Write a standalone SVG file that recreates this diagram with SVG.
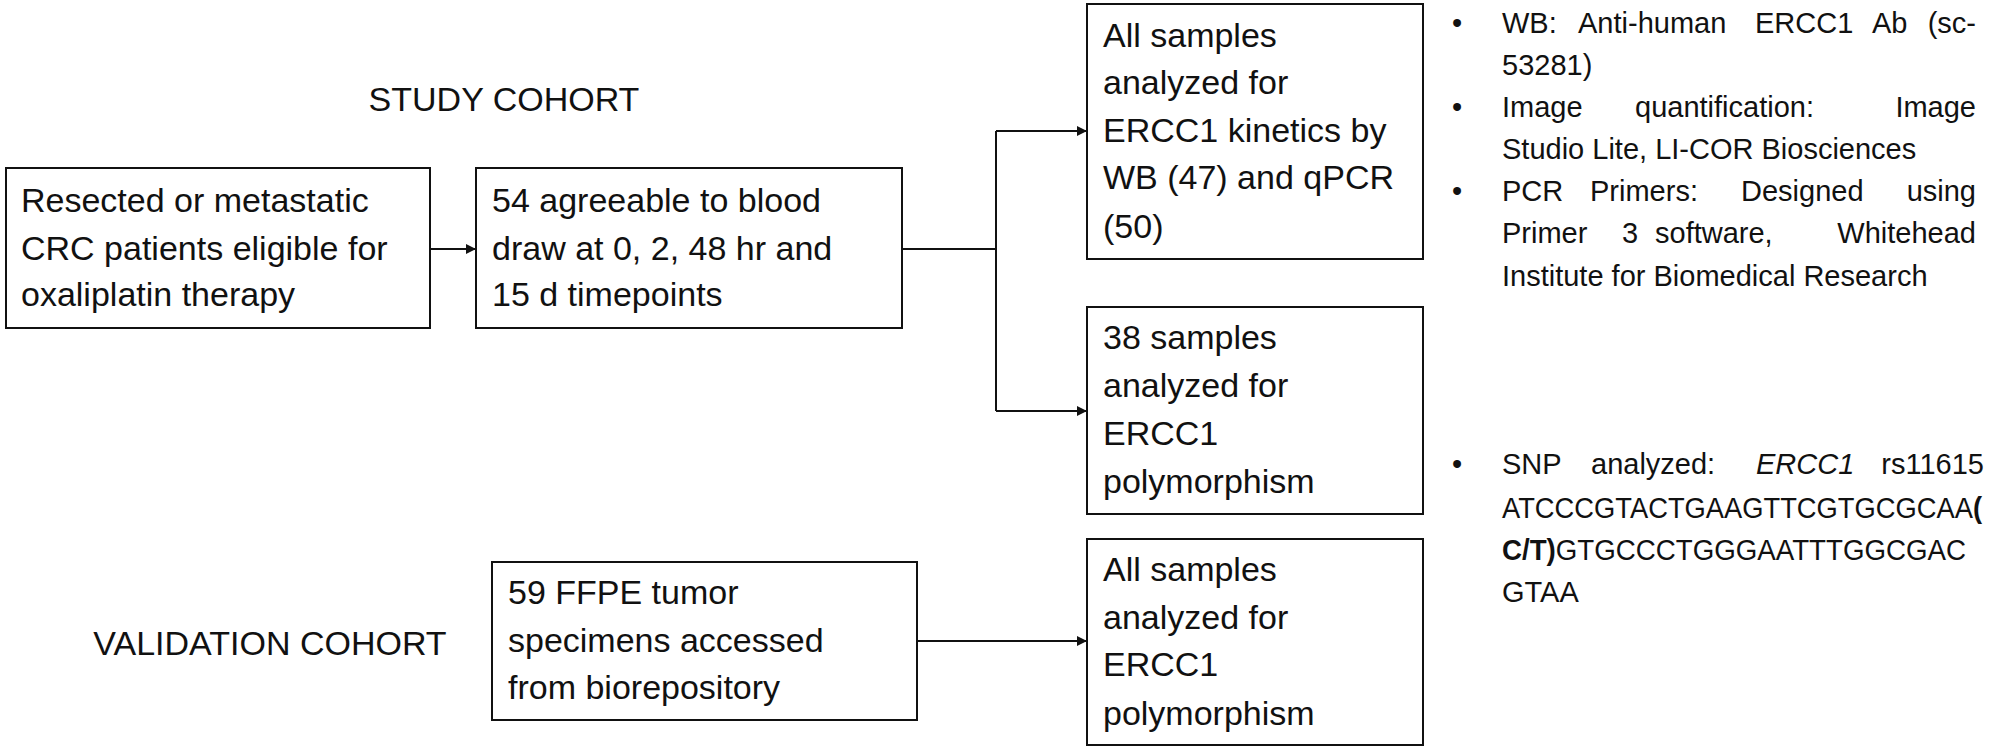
<svg xmlns="http://www.w3.org/2000/svg" width="2000" height="750" viewBox="0 0 2000 750">
<style>
text{font-family:"Liberation Sans",Arial,sans-serif;fill:#111}
.b{font-size:34px}
.s{font-size:29px}
.e{text-anchor:end}
rect{fill:#fff;stroke:#111;stroke-width:2}
.c{fill:none;stroke:#111;stroke-width:2}
</style>
<defs><marker id="a" viewBox="0 0 10 10" refX="10" refY="5" markerWidth="5" markerHeight="5" orient="auto"><path d="M0,0L10,5L0,10z" fill="#111"/></marker></defs>
<text class="b" x="504" y="111" text-anchor="middle">STUDY COHORT</text>
<text class="b" x="270" y="655" text-anchor="middle">VALIDATION COHORT</text>
<g id="n1"><rect x="6" y="168" width="424" height="160"/><text class="b" x="21"><tspan x="21" y="212">Resected or metastatic</tspan><tspan x="21" y="260">CRC patients eligible for</tspan><tspan x="21" y="306">oxaliplatin therapy</tspan></text></g>
<g id="n2"><rect x="476" y="168" width="426" height="160"/><text class="b"><tspan x="492" y="212">54 agreeable to blood</tspan><tspan x="492" y="260">draw at 0, 2, 48 hr and</tspan><tspan x="492" y="306">15 d timepoints</tspan></text></g>
<g id="n3"><rect x="1087" y="4" width="336" height="255"/><text class="b"><tspan x="1103" y="47">All samples</tspan><tspan x="1103" y="94">analyzed for</tspan><tspan x="1103" y="142">ERCC1 kinetics by</tspan><tspan x="1103" y="189">WB (47) and qPCR</tspan><tspan x="1103" y="238">(50)</tspan></text></g>
<g id="n4"><rect x="1087" y="307" width="336" height="207"/><text class="b"><tspan x="1103" y="349">38 samples</tspan><tspan x="1103" y="397">analyzed for</tspan><tspan x="1103" y="445">ERCC1</tspan><tspan x="1103" y="493">polymorphism</tspan></text></g>
<g id="n5"><rect x="492" y="562" width="425" height="158"/><text class="b"><tspan x="508" y="604">59 FFPE tumor</tspan><tspan x="508" y="652">specimens accessed</tspan><tspan x="508" y="699">from biorepository</tspan></text></g>
<g id="n6"><rect x="1087" y="539" width="336" height="206"/><text class="b"><tspan x="1103" y="581">All samples</tspan><tspan x="1103" y="629">analyzed for</tspan><tspan x="1103" y="676">ERCC1</tspan><tspan x="1103" y="725">polymorphism</tspan></text></g>
<g id="connectors">
<path class="c" d="M430,249H476" marker-end="url(#a)"/>
<path class="c" d="M902,249H996"/>
<path class="c" d="M996,131V411"/>
<path class="c" d="M996,131H1087" marker-end="url(#a)"/>
<path class="c" d="M996,411H1087" marker-end="url(#a)"/>
<path class="c" d="M917,641H1087" marker-end="url(#a)"/>
</g>
<g id="notes" class="s">
<text class="s" x="1452" y="33">•</text>
<text class="s" y="33"><tspan x="1502">WB:</tspan><tspan x="1578">Anti-human</tspan><tspan x="1755">ERCC1</tspan><tspan x="1872">Ab</tspan></text>
<text class="s e" x="1976" y="33">(sc-</text>
<text class="s" x="1502" y="75">53281)</text>
<text class="s" x="1452" y="117">•</text>
<text class="s" y="117"><tspan x="1502">Image</tspan><tspan x="1635">quantification:</tspan></text>
<text class="s e" x="1976" y="117">Image</text>
<text class="s" x="1502" y="159">Studio Lite, LI-COR Biosciences</text>
<text class="s" x="1452" y="201">•</text>
<text class="s" y="201"><tspan x="1502">PCR</tspan><tspan x="1590">Primers:</tspan><tspan x="1741">Designed</tspan></text>
<text class="s e" x="1976" y="201">using</text>
<text class="s" y="243"><tspan x="1502">Primer</tspan><tspan x="1622">3</tspan><tspan x="1655">software,</tspan></text>
<text class="s e" x="1976" y="243">Whitehead</text>
<text class="s" x="1502" y="286">Institute for Biomedical Research</text>
<text class="s" x="1452" y="474">•</text>
<text class="s" y="474"><tspan x="1502">SNP</tspan><tspan x="1591">analyzed:</tspan><tspan x="1756" font-style="italic">ERCC1</tspan></text>
<text class="s e" x="1984" y="474">rs11615</text>
<text class="s" x="1502" y="518" textLength="480" lengthAdjust="spacingAndGlyphs">ATCCCGTACTGAAGTTCGTGCGCAA<tspan font-weight="bold">(</tspan></text>
<text class="s" x="1502" y="560" textLength="464" lengthAdjust="spacingAndGlyphs"><tspan font-weight="bold">C/T)</tspan>GTGCCCTGGGAATTTGGCGAC</text>
<text class="s" x="1502" y="602">GTAA</text>
</g>
</svg>
